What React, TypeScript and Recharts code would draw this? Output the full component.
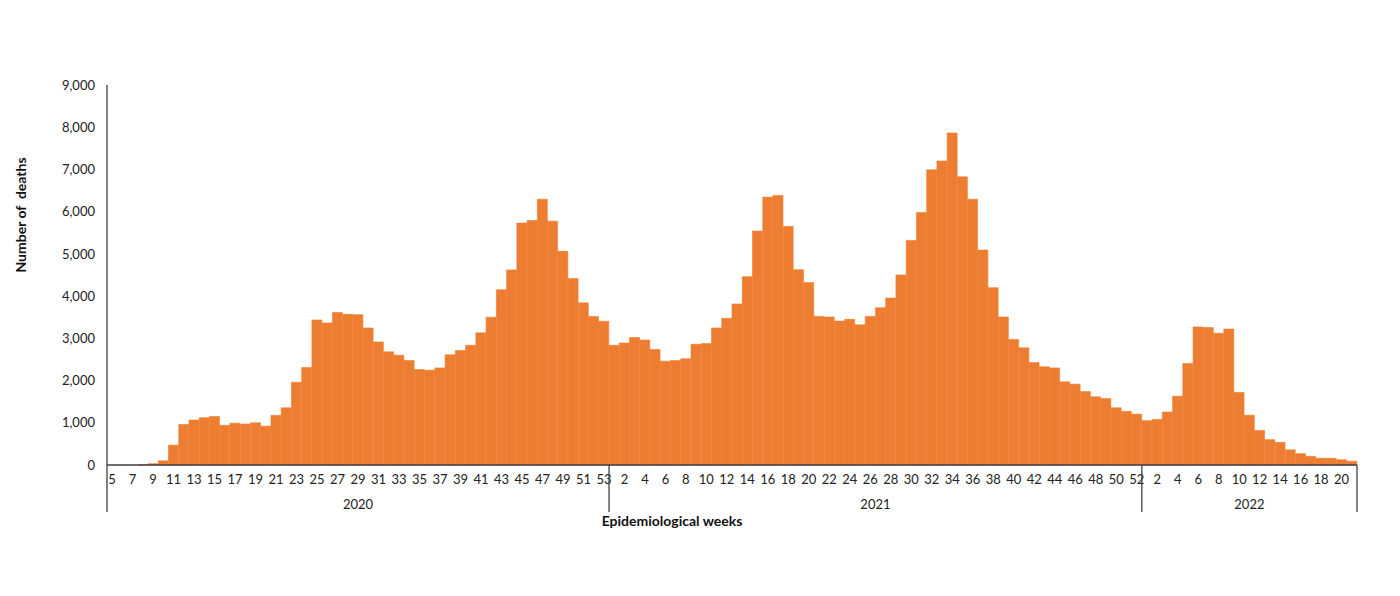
import { BarChart, Bar, XAxis, YAxis } from 'recharts';

// epidemiological weeks per year
const range = (a: number, b: number) => Array.from({ length: b - a + 1 }, (_, i) => a + i);
const weeks2020 = range(5, 53);
const weeks2021 = range(1, 52);
const weeks2022 = range(1, 21);

// weekly deaths
const deaths2020 = [
    0, 0, 0, 5, 30, 100, 470, 960, 1065, 1120,
    1150, 940, 990, 970, 1000, 920, 1175, 1355, 1960, 2310,
    3435, 3365, 3610, 3570, 3560, 3245, 2915, 2680, 2600, 2475,
    2260, 2245, 2300, 2610, 2710, 2835, 3130, 3500, 4150, 4620,
    5730, 5790, 6295, 5775, 5060, 4420, 3840, 3515, 3405,
];
const deaths2021 = [
    2835, 2890, 3020, 2960, 2735, 2460, 2475, 2515, 2860, 2875,
    3245, 3475, 3815, 4460, 5540, 6345, 6385, 5650, 4625, 4320,
    3520, 3505, 3410, 3450, 3320, 3520, 3725, 3955, 4500, 5320,
    5980, 6990, 7200, 7865, 6825, 6295, 5090, 4200, 3505, 2975,
    2775, 2425, 2325, 2300, 1970, 1915, 1740, 1615, 1575, 1355,
    1270, 1205,
];
const deaths2022 = [
    1050, 1080, 1255, 1630, 2405, 3270, 3255, 3120, 3220, 1720,
    1180, 820, 600, 535, 360, 270, 205, 160, 160, 125,
    90,
];

const yTicks = [0, 1000, 2000, 3000, 4000, 5000, 6000, 7000, 8000, 9000];

const years = [
    { year: '2020', weeks: weeks2020, deaths: deaths2020 },
    { year: '2021', weeks: weeks2021, deaths: deaths2021 },
    { year: '2022', weeks: weeks2022, deaths: deaths2022 },
];

const data = years.flatMap(({ year, weeks, deaths }) =>
    weeks.map((w, i) => ({
        key: `${year}-${w}`,
        week: w,
        year,
        first: i === 0,
        count: weeks.length,
        deaths: deaths[i],
    }))
);

const FONT = 'Lato, "Open Sans", sans-serif';
const AXIS = '#404040';
const ORANGE = '#ED7D31';
const PLOT_W = 1250;

function WeekTick(props: any) {
    const { x, y, payload } = props;
    const i = payload.index;
    const row = data[i];
    const half = payload.offset || PLOT_W / data.length / 2;
    return (
        <g>
            {i % 2 === 0 && (
                <text x={x} y={y + 19} textAnchor="middle" fontSize={13} fill="#222" fontFamily={FONT}>
                    {row.week}
                </text>
            )}
            {row.first && (
                <>
                    <line x1={x - half} x2={x - half} y1={y} y2={y + 47} stroke={AXIS} strokeWidth={1.3} />
                    <text x={x - half + row.count * half} y={y + 44} textAnchor="middle" fontSize={13} fill="#222" fontFamily={FONT}>
                        {row.year}
                    </text>
                </>
            )}
            {i === data.length - 1 && (
                <line x1={x + half} x2={x + half} y1={y} y2={y + 47} stroke={AXIS} strokeWidth={1.3} />
            )}
        </g>
    );
}

export default function App() {
    return (
        <div style={{ width: 1384, height: 580, background: '#fff' }}>
            <BarChart
                width={1384}
                height={580}
                data={data}
                margin={{ top: 77, right: 35, left: 0, bottom: 53 }}
                barCategoryGap={0}
                barGap={0}
            >
                <XAxis
                    dataKey="key"
                    interval={0}
                    height={70}
                    tickLine={false}
                    tickSize={0}
                    tickMargin={0}
                    axisLine={{ stroke: AXIS, strokeWidth: 1.5 }}
                    tick={<WeekTick />}
                    label={{
                        value: 'Epidemiological weeks',
                        content: (p: any) => (
                            <text
                                x={p.viewBox.x + p.viewBox.width / 2 - 60}
                                y={p.viewBox.y + 61}
                                textAnchor="middle"
                                fontSize={14}
                                fontWeight="bold"
                                fill="#111"
                                fontFamily={FONT}
                            >
                                Epidemiological weeks
                            </text>
                        ),
                    }}
                />
                <YAxis
                    width={99}
                    domain={[0, 9000]}
                    ticks={yTicks}
                    interval={0}
                    tickLine={false}
                    tickSize={0}
                    tickMargin={12}
                    axisLine={{ stroke: AXIS, strokeWidth: 1.3 }}
                    tick={{ fill: '#222', fontSize: 13, fontFamily: FONT }}
                    tickFormatter={(v: number) => v.toLocaleString('en-US')}
                    label={{
                        value: 'Number of  deaths',
                        content: () => (
                            <text
                                x={14}
                                y={207}
                                transform="rotate(-90, 14, 207)"
                                textAnchor="middle"
                                dominantBaseline="middle"
                                fontSize={14}
                                fontWeight="bold"
                                fill="#111"
                                fontFamily={FONT}
                                style={{ whiteSpace: 'pre' }}
                            >
                                Number of  deaths
                            </text>
                        ),
                    }}
                />
                <Bar dataKey="deaths" fill={ORANGE} stroke={ORANGE} strokeWidth={0.6} isAnimationActive={false} />
            </BarChart>
        </div>
    );
}
